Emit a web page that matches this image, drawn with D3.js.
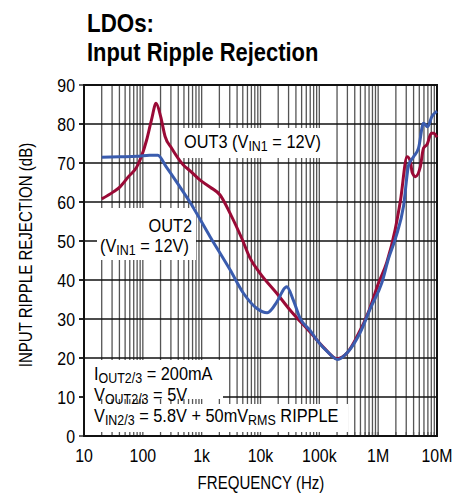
<!DOCTYPE html>
<html>
<head>
<meta charset="utf-8">
<script src="https://cdn.jsdelivr.net/npm/d3@7"></script>
<style>
  body { margin: 0; background: #fff; }
  svg { display: block; font-family: "Liberation Sans", Arial, sans-serif; }
</style>
</head>
<body>
<svg></svg>
<script>
let width = 466;
let height = 494;

// tick values
let freqTicks = [10, 100, 1e3, 1e4, 1e5, 1e6, 1e7];
let freqLabels = ['10', '100', '1k', '10k', '100k', '1M', '10M'];
let dbTicks = [0, 10, 20, 30, 40, 50, 60, 70, 80, 90];

// OUT3 (red)
let out3Freq = [20, 31.5, 41, 57, 79, 116, 140, 168, 201, 239, 309, 489, 635, 940, 1400, 2055,
  3040, 4800, 6650, 9840, 18900, 31700, 69000, 120000, 200000, 300000, 437000, 700000,
  1000000, 1400000, 1950000, 2400000, 3100000, 3500000, 3800000, 4300000, 5200000,
  5900000, 6800000, 8000000, 8800000, 10000000];
let out3Db = [60.8, 62.6, 63.9, 66.5, 69, 75.9, 81, 85.3, 81.9, 76.8, 73.8, 69.5, 68, 65.6, 63.8, 61.8,
  57.1, 50.7, 45.6, 41.7, 36.6, 32.3, 26.7, 22.6, 19.8, 21.4, 25.5, 32.2,
  39, 44.5, 53, 60.5, 71.6, 70.6, 67.5, 66.5, 69,
  73.8, 74.8, 77.6, 77.6, 76.6];

// OUT2 (blue)
let out2Freq = [20, 40, 80, 130, 180, 250, 400, 630, 1390, 3040, 5130, 8700, 13000, 19000, 26000,
  28000, 36000, 47000, 70000, 91000, 140000, 204000, 300000, 490000, 750000, 1150000,
  1500000, 2000000, 2700000, 3300000, 4000000, 4850000, 5900000, 6900000, 8200000, 10000000];
let out2Db = [71.5, 71.6, 71.7, 72, 72, 69, 64.5, 60, 51.1, 42.6, 36.6, 32.7, 31.6, 34.4, 38,
  38.3, 34.9, 30.2, 27, 24.6, 21.5, 19.6, 21.4, 26.4, 33, 39.2,
  45.5, 51, 59, 69.5, 71.6, 73.8, 80.2, 79.3, 81.9, 83.3];

let margin = {left: 84, right: 29, top: 85, bottom: 58};
let squeeze = 0.86;  // fake a condensed face

let svg = d3.select('svg')
            .attr('width', width)
            .attr('height', height);

let x = d3.scaleLog()
          .domain([10, 1e7])
          .range([margin.left, width - margin.right]);
let y = d3.scaleLinear()
          .domain([0, 90])
          .range([height - margin.bottom, margin.top]);

function place(px, py, rot) {
  return 'translate(' + px + ',' + py + ')' + (rot ? ' rotate(' + rot + ')' : '') + ' scale(' + squeeze + ',1)';
}

// title
svg.append('text')
   .attr('transform', place(87, 32))
   .attr('font-size', 26).attr('font-weight', 'bold')
   .text('LDOs:');
svg.append('text')
   .attr('transform', place(87, 61))
   .attr('font-size', 25.5).attr('font-weight', 'bold')
   .text('Input Ripple Rejection');

// vertical grid (1..9 per decade)
let gridFreqs = [];
for (let d = 10; d < 1e7; d *= 10) {
  for (let k = 1; k < 10; k++) gridFreqs.push(d * k);
}
gridFreqs.push(1e7);

svg.append('g')
   .selectAll('line')
   .data(gridFreqs.slice(1, -1))
   .enter()
   .append('line')
   .attr('x1', d => x(d)).attr('x2', d => x(d))
   .attr('y1', y(90)).attr('y2', y(0))
   .attr('stroke', '#555')
   .attr('stroke-width', 1.3);

svg.append('g')
   .selectAll('line')
   .data(dbTicks.slice(1, -1))
   .enter()
   .append('line')
   .attr('x1', x(10) - 5).attr('x2', x(1e7))
   .attr('y1', d => y(d)).attr('y2', d => y(d))
   .attr('stroke', '#111')
   .attr('stroke-width', 1.3);

// white label backgrounds
let boxes = [
  [182, 128, 142, 30],
  [97, 208, 99, 52],
  [84, 360, 139, 39],
  [84, 404, 264, 32]
];
svg.append('g')
   .selectAll('rect')
   .data(boxes)
   .enter()
   .append('rect')
   .attr('x', d => d[0]).attr('y', d => d[1])
   .attr('width', d => d[2]).attr('height', d => d[3])
   .attr('fill', '#fff');

// short inward ticks on the bottom axis
svg.append('g')
   .selectAll('line')
   .data(gridFreqs.slice(1, -1))
   .enter()
   .append('line')
   .attr('x1', d => x(d)).attr('x2', d => x(d))
   .attr('y1', y(0) - 4).attr('y2', y(0))
   .attr('stroke', '#555')
   .attr('stroke-width', 1.3);

// outward ticks on the left
svg.append('g')
   .selectAll('line')
   .data(dbTicks)
   .enter()
   .append('line')
   .attr('x1', x(10) - 5).attr('x2', x(10))
   .attr('y1', d => y(d)).attr('y2', d => y(d))
   .attr('stroke', '#111')
   .attr('stroke-width', 1.3);

// frame
svg.append('rect')
   .attr('x', x(10)).attr('y', y(90))
   .attr('width', x(1e7) - x(10)).attr('height', y(0) - y(90))
   .attr('fill', 'none')
   .attr('stroke', '#111')
   .attr('stroke-width', 2);

// curves
let line = d3.line()
             .x(d => x(d[0]))
             .y(d => y(d[1]))
             .curve(d3.curveMonotoneX);

svg.append('path')
   .datum(out3Freq.map((f, i) => [f, out3Db[i]]))
   .attr('d', line)
   .attr('fill', 'none')
   .attr('stroke', '#9a0a36')
   .attr('stroke-width', 3)
   .attr('stroke-linejoin', 'round');

svg.append('path')
   .datum(out2Freq.map((f, i) => [f, out2Db[i]]))
   .attr('d', line)
   .attr('fill', 'none')
   .attr('stroke', '#3a5cae')
   .attr('stroke-width', 3)
   .attr('stroke-linejoin', 'round');

// tick labels
svg.append('g')
   .selectAll('text')
   .data(dbTicks)
   .enter()
   .append('text')
   .attr('transform', d => place(x(10) - 9, y(d) + 7))
   .attr('text-anchor', 'end')
   .attr('font-size', 18.5)
   .text(d => d);

svg.append('g')
   .selectAll('text')
   .data(freqTicks)
   .enter()
   .append('text')
   .attr('transform', d => place(x(d), 462))
   .attr('text-anchor', 'middle')
   .attr('font-size', 18.5)
   .text((d, i) => freqLabels[i]);

// axis titles
svg.append('text')
   .attr('transform', place(261, 489))
   .attr('text-anchor', 'middle')
   .attr('font-size', 17.5)
   .text('FREQUENCY (Hz)');

svg.append('text')
   .attr('transform', place(32, 255, -90))
   .attr('text-anchor', 'middle')
   .attr('font-size', 17.5)
   .text('INPUT RIPPLE REJECTION (dB)');

// annotation helper: parts of [text, isSub]
function label(px, py, parts, anchor) {
  let t = svg.append('text')
             .attr('transform', place(px, py))
             .attr('font-size', 19)
             .attr('text-anchor', anchor || 'start');
  let sub = false;
  parts.forEach(p => {
    let s = t.append('tspan').text(p[0]);
    if (p[1] && !sub) { s.attr('dy', 3).attr('font-size', 14.5); sub = true; }
    else if (p[1]) { s.attr('font-size', 14.5); }
    else if (sub) { s.attr('dy', -3); sub = false; }
  });
}

label(184, 148, [['OUT3 (V'], ['IN1', 1], [' = 12V)']]);
label(192, 232, [['OUT2']], 'end');
label(100, 252, [['(V'], ['IN1', 1], [' = 12V)']]);
label(94, 380, [['I'], ['OUT2/3', 1], [' = 200mA']]);
label(94, 401, [['V'], ['OUT2/3', 1], [' = 5V']]);
label(94, 422, [['V'], ['IN2/3', 1], [' = 5.8V + 50mV'], ['RMS', 1], [' RIPPLE']]);
</script>
</body>
</html>
